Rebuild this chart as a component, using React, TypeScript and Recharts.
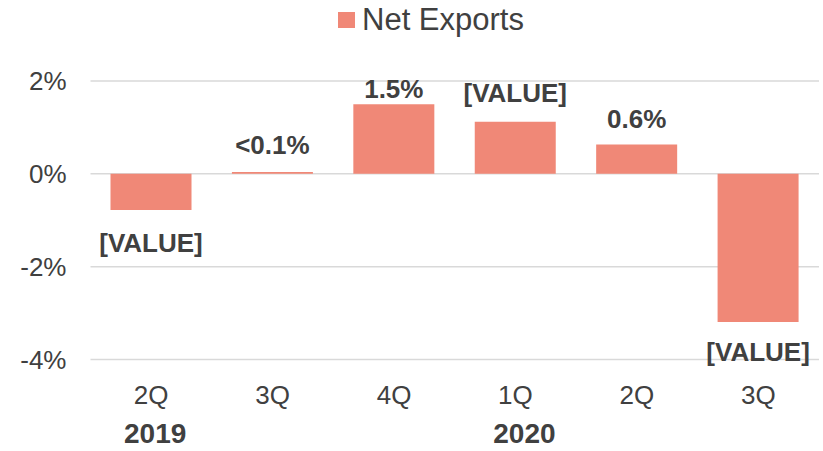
import { Bar, BarChart, CartesianGrid, LabelList, Legend, XAxis, YAxis } from "recharts"

// data
const quarters = ["2Q", "3Q", "4Q", "1Q", "2Q", "3Q"]
const years = ["2019", "", "", "2020", "", ""]
const netExports = [-0.78, 0.04, 1.5, 1.12, 0.63, -3.19]
const valueLabels = ["[VALUE]", "<0.1%", "1.5%", "[VALUE]", "0.6%", "[VALUE]"]
const yTicks = [-4, -2, 0, 2]

// layout
const BAR_COLOR = "#F08877"
const TEXT_COLOR = "#404040"
const FONT = "'Liberation Sans', Arial, sans-serif"
const LABEL_SHIFT = [33, -27, -15, -29, -26, 30]
const YEAR_SHIFT = [4, 0, 0, 9, 0, 0]

const chartData = quarters.map((quarter, i) => ({
  quarter,
  value: netExports[i],
}))

function QuarterTick({ x, y, payload }: any) {
  const i = payload.index
  return (
    <g>
      <text
        x={x}
        y={y + 35}
        textAnchor="middle"
        dominantBaseline="central"
        fontSize={26}
        fill={TEXT_COLOR}
        fontFamily={FONT}
      >
        {quarters[i]}
      </text>
      {years[i] && (
        <text
          x={x + YEAR_SHIFT[i]}
          y={y + 74}
          textAnchor="middle"
          dominantBaseline="central"
          fontSize={28}
          fontWeight="bold"
          fill={TEXT_COLOR}
          fontFamily={FONT}
        >
          {years[i]}
        </text>
      )}
    </g>
  )
}

function ValueLabel(props: any) {
  const { x, y, width, height, index } = props
  const top = Math.min(y, y + height)
  const bottom = Math.max(y, y + height)
  const cy = netExports[index] >= 0 ? top + LABEL_SHIFT[index] : bottom + LABEL_SHIFT[index]
  return (
    <text
      x={x + width / 2}
      y={cy}
      textAnchor="middle"
      dominantBaseline="central"
      fontSize={26}
      fontWeight="bold"
      fill={TEXT_COLOR}
      fontFamily={FONT}
    >
      {valueLabels[index]}
    </text>
  )
}

function LegendContent() {
  return (
    <div
      style={{
        display: "flex",
        alignItems: "center",
        height: 40,
        paddingLeft: 338,
        fontFamily: FONT,
      }}
    >
      <span style={{ width: 17, height: 16, background: BAR_COLOR, marginRight: 7 }} />
      <span style={{ fontSize: 31, color: TEXT_COLOR }}>Net Exports</span>
    </div>
  )
}

export default function App() {
  return (
    <div style={{ position: "absolute", left: 0, top: 0, background: "#fff" }}>
      <BarChart
        width={823}
        height={451}
        data={chartData}
        margin={{ top: 41, right: 4, bottom: 0, left: 0 }}
      >
        <Legend
          verticalAlign="top"
          align="left"
          content={<LegendContent />}
          wrapperStyle={{ left: 0, top: 0, width: 823 }}
        />
        <CartesianGrid vertical={false} stroke="#D9D9D9" strokeWidth={1.5} />
        <XAxis
          dataKey="quarter"
          axisLine={false}
          tickLine={false}
          tickSize={0}
          tickMargin={0}
          height={91.5}
          interval={0}
          tick={<QuarterTick />}
        />
        <YAxis
          domain={[-4, 2]}
          ticks={yTicks}
          width={90.5}
          axisLine={false}
          tickLine={false}
          tickSize={0}
          tickMargin={24}
          tickFormatter={(v: number) => `${v}%`}
          tick={{ fontSize: 26, fill: TEXT_COLOR, fontFamily: FONT }}
        />
        <Bar dataKey="value" fill={BAR_COLOR} barSize={81} isAnimationActive={false}>
          <LabelList dataKey="value" content={<ValueLabel />} />
        </Bar>
      </BarChart>
    </div>
  )
}
